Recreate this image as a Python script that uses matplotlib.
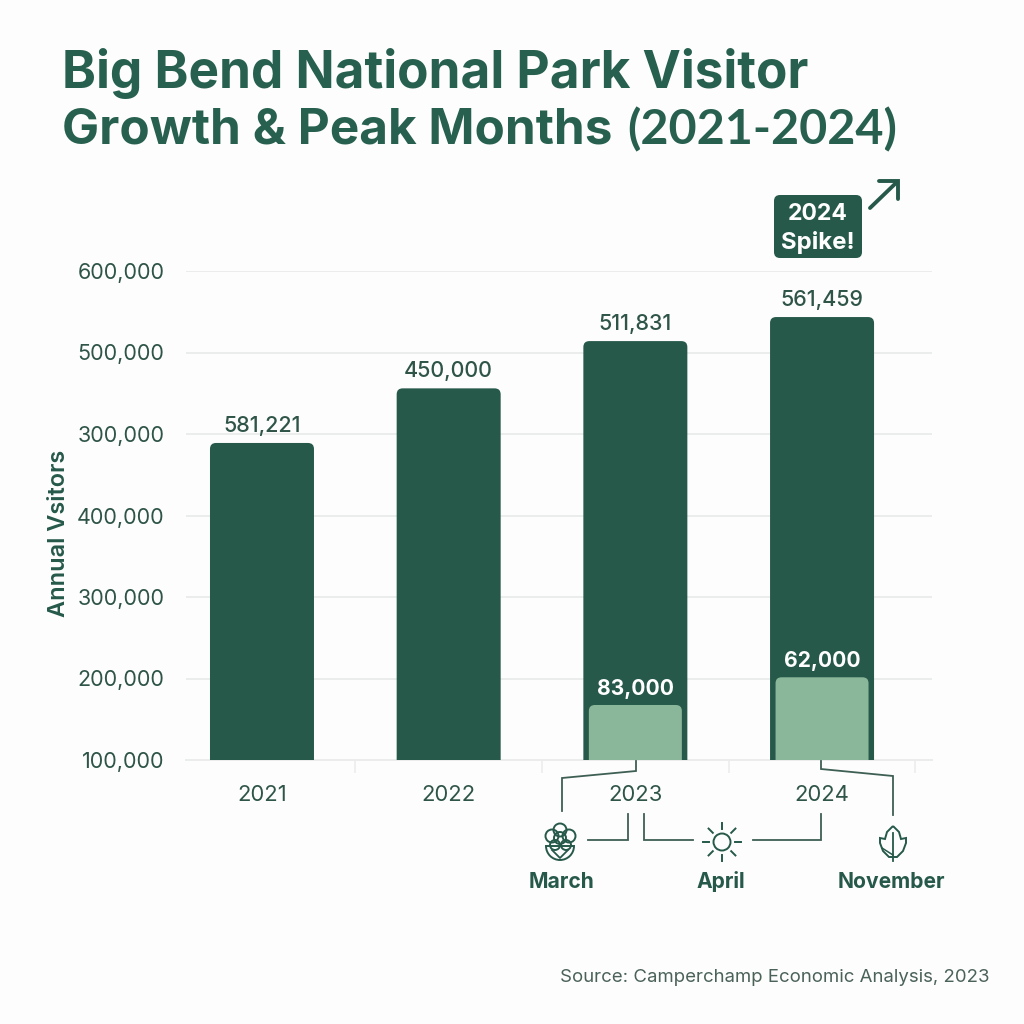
import matplotlib
matplotlib.use("Agg")
import matplotlib.pyplot as plt
from matplotlib.patches import FancyBboxPatch, Circle, Wedge, PathPatch
from matplotlib.path import Path
import numpy as np

plt.rcParams["font.family"] = ["Inter", "DejaVu Sans"]

years = ["2021", "2022", "2023", "2024"]
# heights as drawn against the axis, labels as printed on the chart
bar_heights = [489000, 556000, 614000, 643500]
bar_labels = ["581,221", "450,000", "511,831", "561,459"]
peak_heights = [167500, 201500]
peak_labels = ["83,000", "62,000"]
peak_pos = [2, 3]
ytick_vals = [100000, 200000, 300000, 400000, 500000, 600000, 700000]
ytick_text = ["100,000", "200,000", "300,000", "400,000", "300,000", "500,000", "600,000"]
months = ["March", "April", "November"]

DARK = "#26594A"
LIGHT = "#8AB69A"
TEXT = "#2F5548"
TITLE = "#27604E"
GRID = "#EBEDEC"
BG = "#FDFDFD"


def px(size):
    return size * 0.72


fig = plt.figure(figsize=(10.24, 10.24), dpi=100, facecolor=BG)

# main axes, placed so that the gridlines land where they are in the picture
ax = fig.add_axes([186 / 1024, 1 - 760 / 1024, (932 - 186) / 1024, (760 - 271) / 1024])
ax.set_facecolor("none")
ax.set_xlim(-0.407, 3.589)
ax.set_ylim(100000, 700000)
ax.set_yticks(ytick_vals)
ax.set_yticklabels(ytick_text, fontsize=px(21.5), color=TEXT)
ax.set_xticks([0.5, 1.5, 2.5, 3.5])
ax.set_xticklabels([])
ax.tick_params(axis="y", length=0, pad=15.5)
ax.tick_params(axis="x", length=9, width=1.2, color=GRID)
ax.grid(axis="y", color=GRID, lw=1.4, zorder=0)
ax.set_axisbelow(True)
for s in ["top", "right", "left"]:
    ax.spines[s].set_visible(False)
ax.spines["bottom"].set_color(GRID)
ax.spines["bottom"].set_linewidth(1.4)

# size of one pixel in data units, for the rounded corners
xpx = (3.589 + 0.407) / (932 - 186)
ypx = 600000 / (760 - 271)


def round_bar(x, width, top, color, z):
    bottom = 100000 - 12 * ypx
    r = 6 * xpx
    ax.add_patch(FancyBboxPatch((x - width / 2 + r, bottom + r * ypx / xpx),
                                width - 2 * r, top - bottom - 2 * r * ypx / xpx,
                                boxstyle=f"round,pad={r},rounding_size={r}",
                                mutation_aspect=ypx / xpx, fc=color, ec="none", zorder=z))


for i, (h, lab) in enumerate(zip(bar_heights, bar_labels)):
    round_bar(i, 104 * xpx, h, DARK, 3)
    ax.text(i, h + 7 * ypx, lab, ha="center", va="bottom", fontsize=px(21.5),
            fontweight="medium", color=TEXT, zorder=5)
    ax.text(i, 100000 - 35 * ypx, years[i], ha="center", va="center", fontsize=px(22), color=TEXT)

for p, h, lab in zip(peak_pos, peak_heights, peak_labels):
    round_bar(p, 93 * xpx, h, LIGHT, 4)
    ax.text(p, h + 6 * ypx, lab, ha="center", va="bottom", fontsize=px(21),
            fontweight="bold", color="white", zorder=5)

ax.text(-0.407 - 127 * xpx, 100000 + (760 - 533) * ypx, "Annual Vsitors", rotation=90,
        ha="center", va="center", fontsize=px(23.5), fontweight="semibold", color=DARK)

# overlay in picture pixels for title, callout and the month icons
ov = fig.add_axes([0, 0, 1, 1], zorder=10)
ov.set_xlim(0, 1024)
ov.set_ylim(1024, 0)
ov.axis("off")
ov.patch.set_alpha(0)

ov.text(62, 88, "Big Bend National Park Visitor", fontsize=px(51.4), fontweight="bold",
        color=TITLE, va="baseline")
ov.text(62, 144, "Growth & Peak Months", fontsize=px(49.5), fontweight="bold",
        color=TITLE, va="baseline")
ov.text(627, 144, "(2021-2024)", fontsize=px(48.5), fontweight="bold", family="Lato",
        color=TITLE, va="baseline")

ov.add_patch(FancyBboxPatch((779, 200), 78, 53, boxstyle="round,pad=5,rounding_size=6",
                            fc=DARK, ec="none"))
ov.text(818, 214, "2024", ha="center", va="center", fontsize=px(23), fontweight="bold", color="white")
ov.text(818, 242, "Spike!", ha="center", va="center", fontsize=px(24), fontweight="bold", color="white")
ov.plot([870, 897], [208, 182], color=DARK, lw=2.8, solid_capstyle="round")
ov.plot([879, 898, 898], [181, 181, 199], color=DARK, lw=2.8, solid_capstyle="round",
        solid_joinstyle="miter")

# connector lines
links = [
    ([636, 636, 562, 562], [761, 771, 778, 811]),
    ([628, 628, 588], [814, 840, 840]),
    ([644, 644, 693], [814, 840, 840]),
    ([753, 821, 821], [840, 840, 814]),
    ([821, 821, 893, 893], [761, 769, 776, 815]),
]
for xs, ys in links:
    ov.plot(xs, ys, color="#3E5F54", lw=1.3, solid_joinstyle="miter")

ICON = dict(fc="none", ec=DARK, lw=1.4)

# flower
for cx, cy, r in [(560, 830, 6.5), (552, 836, 6.5), (569, 836, 6.5), (560, 838, 6), (555, 845, 5), (566, 845, 5)]:
    ov.add_patch(Circle((cx, cy), r, **ICON))
ov.add_patch(Wedge((560, 846), 14, 0, 180, **ICON))
ov.plot([552, 560, 568], [850, 858, 850], color=DARK, lw=1.3)

# sun
ov.add_patch(Circle((722, 842), 8.5, **ICON))
for a in np.arange(0, 360, 45):
    c, s = np.cos(np.radians(a)), np.sin(np.radians(a))
    ov.plot([722 + 13 * c, 722 + 19 * c], [842 + 13 * s, 842 + 19 * s], color=DARK, lw=1.4)

# leaf
leaf = Path([(893, 826), (899, 832), (901, 839), (906, 838), (906, 843), (903, 851), (897, 857),
             (889, 857), (883, 851), (880, 843), (880, 838), (885, 839), (887, 832), (893, 826)])
ov.add_patch(PathPatch(leaf, **ICON))
ov.plot([893, 893], [833, 861], color=DARK, lw=1.3)
ov.plot([882, 893], [848, 855], color=DARK, lw=1.1)

for x, m in zip([561, 721, 891], months):
    ov.text(x, 882, m, ha="center", va="center", fontsize=px(21), fontweight="bold", color=DARK)

ov.text(989, 977.5, "Source: Camperchamp Economic Analysis, 2023", ha="right", va="center",
        fontsize=px(18.6), color="#4B6259")

fig.savefig("out.png", dpi=100, facecolor=BG)
